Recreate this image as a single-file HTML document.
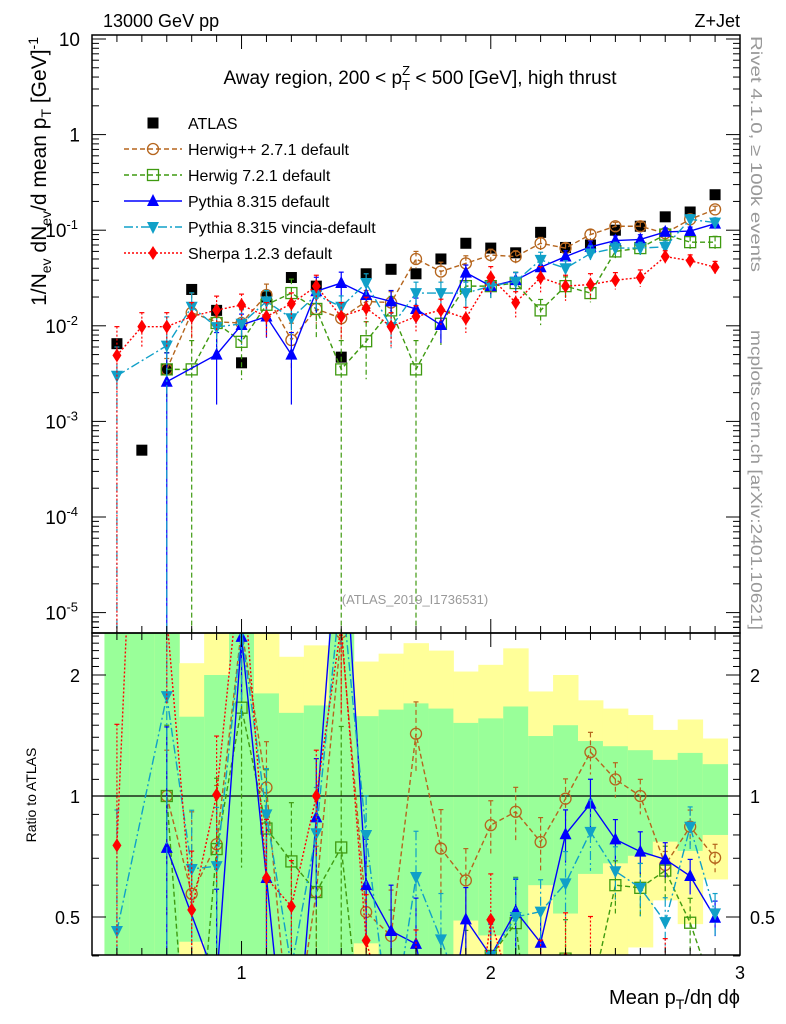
<!DOCTYPE html>
<html><head><meta charset="utf-8"><style>
html,body{margin:0;background:#fff;overflow:hidden;width:786px;height:1024px;}
svg{display:block;font-family:"Liberation Sans",sans-serif;}
</style></head><body>
<svg id="c" width="786" height="1024" viewBox="0 0 786 1024">
<defs>
<clipPath id="mainClip"><rect x="92" y="35" width="648" height="598"/></clipPath>
<clipPath id="ratioClip"><rect x="92" y="633" width="648" height="322"/></clipPath>
</defs>
<g id="bands" clip-path="url(#ratioClip)"></g>
<g id="marks"></g>
<g id="axes"></g>
<text x="103" y="27" font-size="18">13000 GeV pp</text>
<text x="740" y="27" font-size="18" text-anchor="end">Z+Jet</text>
<text x="420" y="84" font-size="19" text-anchor="middle">Away region, 200 &lt; p<tspan font-size="13" dy="6">T</tspan><tspan font-size="13" dx="-8" dy="-15">Z</tspan><tspan dy="9"> &lt; 500 [GeV], high thrust</tspan></text>
<text x="415" y="604" font-size="13" fill="#999" text-anchor="middle">(ATLAS_2019_I1736531)</text>
<text transform="translate(751,36) rotate(90)" font-size="16" fill="#999" textLength="236" lengthAdjust="spacingAndGlyphs" x="0" y="0">Rivet 4.1.0, ≥ 100k events</text>
<text transform="translate(751,330) rotate(90)" font-size="16" fill="#999" textLength="300" lengthAdjust="spacingAndGlyphs">mcplots.cern.ch [arXiv:2401.10621]</text>
<text transform="translate(46,37) rotate(-90)" font-size="21" text-anchor="end">1/N<tspan font-size="14" dy="5">ev</tspan><tspan dy="-5"> dN</tspan><tspan font-size="14" dy="5">ev</tspan><tspan dy="-5">/d mean p</tspan><tspan font-size="14" dy="5">T</tspan><tspan dy="-5"> [GeV]</tspan><tspan font-size="14" dy="-8">-1</tspan></text>
<text transform="translate(36,795) rotate(-90)" font-size="14" text-anchor="middle">Ratio to ATLAS</text>
<text x="740" y="1004" font-size="20" text-anchor="end">Mean p<tspan font-size="14" dy="5">T</tspan><tspan dy="-5">/dη dϕ</tspan></text>
<g id="legend"></g>
</svg>
<script>
const bins=[0.5,0.6,0.7,0.8,0.9,1.0,1.1,1.2,1.3,1.4,1.5,1.6,1.7,1.8,1.9,2.0,2.1,2.2,2.3,2.4,2.5,2.6,2.7,2.8,2.9];
const atlas=[0.0065,0.0005,0.0035,0.024,0.0145,0.0041,0.020,0.032,0.026,0.0047,0.035,0.039,0.035,0.05,0.073,0.065,0.058,0.095,0.066,0.07,0.1,0.11,0.138,0.155,0.235];
const herwigpp=[null,null,0.0035,0.0137,0.011,0.0107,0.021,0.0071,0.015,0.012,0.018,0.0175,0.05,0.037,0.045,0.055,0.053,0.073,0.065,0.09,0.11,0.11,0.093,0.13,0.165];
const herwig7=[null,null,0.0035,0.0035,0.0107,0.0068,0.0166,0.022,0.015,0.0035,0.0069,0.0145,0.0035,0.0105,0.026,0.026,0.028,0.0145,0.026,0.022,0.06,0.065,0.09,0.075,0.075];
const pythia=[null,null,0.0026,null,0.005,0.0102,0.0125,0.005,0.023,0.028,0.021,0.018,0.015,0.0102,0.036,0.026,0.030,0.041,0.053,0.067,0.078,0.08,0.096,0.098,0.117];
const vincia=[0.003,null,0.0062,0.0158,0.0097,0.0105,0.018,0.012,0.021,0.0158,0.028,0.0097,0.022,0.022,0.022,0.026,0.029,0.049,0.04,0.057,0.065,0.065,0.067,0.13,0.12];
const sherpa=[0.0049,0.0098,0.0098,0.0125,0.0146,0.0165,0.0125,0.017,0.026,0.0125,0.0153,0.0098,0.0125,0.0146,0.012,0.032,0.0175,0.032,0.026,0.027,0.03,0.032,0.053,0.048,0.041];
const errHpp=[0,0,0.3,0.6,0.4,0.4,0.3,0.5,0.3,0.4,0.3,0.3,0.2,0.25,0.2,0.15,0.15,0.15,0.12,0.12,0.1,0.1,0.08,0.1,0.08];
const errH7=[0,0,0.5,1,0.5,0.6,0.4,0.4,0.5,1,0.6,0.4,1,0.4,0.3,0.25,0.3,0.3,0.25,0.2,0.15,0.15,0.15,0.15,0.15];
const errPy=[0,0,1,0,0.7,0.3,0.4,0.7,0.4,0.3,0.3,0.3,0.3,0.35,0.2,0.2,0.2,0.2,0.15,0.15,0.12,0.12,0.1,0.1,0.1];
const errVi=[1,0,1,0.4,0.4,0.4,0.3,0.4,0.3,0.3,0.25,0.4,0.3,0.3,0.3,0.25,0.25,0.2,0.2,0.2,0.15,0.15,0.15,0.12,0.12];
const errSh=[1,0.4,0.4,0.4,0.4,0.3,0.4,0.3,0.3,0.4,0.3,0.4,0.3,0.3,0.3,0.3,0.3,0.3,0.3,0.3,0.2,0.2,0.15,0.15,0.15];
const yellowHi=[2.6,2.6,2.6,2.14,2.6,2.6,2.6,2.22,2.37,2.6,2.16,2.26,2.40,2.30,2.04,2.12,2.33,1.82,2.0,1.73,1.65,1.59,1.46,1.55,1.39];
const greenHi=[2.6,2.6,2.6,1.575,2.0,2.6,1.80,1.61,1.68,2.6,1.58,1.64,1.70,1.65,1.52,1.56,1.67,1.41,1.50,1.37,1.33,1.30,1.23,1.28,1.20];
const greenLo=[0.3,0.3,0.3,0.434,0.3,0.3,0.3,0.3,0.3,0.3,0.43,0.3,0.3,0.3,0.49,0.45,0.3,0.60,0.51,0.64,0.68,0.71,0.77,0.73,0.80];
const yellowLo=[0.3,0.3,0.3,0.3,0.3,0.3,0.3,0.3,0.3,0.3,0.3,0.3,0.3,0.3,0.3,0.3,0.3,0.3,0.3,0.3,0.3,0.42,0.55,0.48,0.62];
const xTicks=[1,2,3];
const yTickExp=[1,0,-1,-2,-3,-4,-5];
const rTicks=[0.5,1,2];

const NS="http://www.w3.org/2000/svg";
const X0=92,X1=740,MT=35,MB=633,RB=955;
const sx=v=>X0+(v-0.4)/(3-0.4)*(X1-X0);
const syM=v=>39+(1-Math.log10(v))*95.6;
const syR=r=>796-Math.log2(r)*121;
function el(tag,attrs,parent){const e=document.createElementNS(NS,tag);for(const k in attrs)e.setAttribute(k,attrs[k]);parent.appendChild(e);return e;}
const bands=document.getElementById('bands'),marks=document.getElementById('marks'),axes=document.getElementById('axes'),legend=document.getElementById('legend');
const hw=(sx(1.1)-sx(1.0))/2;
bins.forEach((b,i)=>{
  const y=el('rect',{x:sx(b)-hw,y:syR(yellowHi[i]),width:2*hw+0.5,height:syR(yellowLo[i])-syR(yellowHi[i]),fill:'#ffff99'},bands);
  
  
  const g=el('rect',{x:sx(b)-hw,y:syR(greenHi[i]),width:2*hw+0.5,height:syR(greenLo[i])-syR(greenHi[i]),fill:'#99ff99'},bands);
  
  
});
el('line',{x1:X0,x2:X1,y1:syR(1),y2:syR(1),stroke:'#000','stroke-width':1.2},bands);
const series=[
 {name:'herwigpp',label:'Herwig++ 2.7.1 default',v:herwigpp,e:errHpp,c:'#b5651d',dash:'5,3',m:'circle'},
 {name:'herwig7',label:'Herwig 7.2.1 default',v:herwig7,e:errH7,c:'#3f9a10',dash:'5,3',m:'osquare'},
 {name:'pythia',label:'Pythia 8.315 default',v:pythia,e:errPy,c:'#0000ff',dash:'',m:'tri'},
 {name:'vincia',label:'Pythia 8.315 vincia-default',v:vincia,e:errVi,c:'#10a0c8',dash:'9,3,2,3',m:'dtri'},
 {name:'sherpa',label:'Sherpa 1.2.3 default',v:sherpa,e:errSh,c:'#ff0000',dash:'2,2',m:'diamond'}
];
function marker(m,x,y,c,p){
  if(m==='circle')return el('circle',{cx:x,cy:y,r:5.5,fill:'none',stroke:c,'stroke-width':1.3},p);
  if(m==='osquare')return el('rect',{x:x-5.5,y:y-5.5,width:11,height:11,fill:'none',stroke:c,'stroke-width':1.3},p);
  if(m==='square')return el('rect',{x:x-5.5,y:y-5.5,width:11,height:11,fill:c},p);
  if(m==='tri')return el('polygon',{points:`${x},${y-7} ${x-6},${y+5} ${x+6},${y+5}`,fill:c},p);
  if(m==='dtri')return el('polygon',{points:`${x},${y+7} ${x-6},${y-5} ${x+6},${y-5}`,fill:c},p);
  return el('polygon',{points:`${x},${y-7} ${x-4.5},${y} ${x},${y+7} ${x+4.5},${y}`,fill:c},p);
}
function drawSeries(s,panel){
  const g=el('g',{'clip-path':panel==='main'?'url(#mainClip)':'url(#ratioClip)'},marks);
  
  
  const pts=[];
  bins.forEach((b,i)=>{
    const v=s.v[i]; if(v==null)return;
    const val=panel==='main'?v:v/atlas[i];
    const f=panel==='main'?syM:syR;
    const x=sx(b),y=f(val);
    const lo=s.e[i]>=1?(panel==='main'?MB+5:RB+5):f(val*(1-s.e[i])), hi=f(val*(1+s.e[i]));
    const eb=el('line',{x1:x,x2:x,y1:hi,y2:lo,stroke:s.c,'stroke-width':1.2,'stroke-dasharray':s.dash},g);
    
    
    el('line',{x1:x-2.5,x2:x+2.5,y1:hi,y2:hi,stroke:s.c,'stroke-width':1.2},g);
    pts.push([x,y]);
  });
  const pl=el('polyline',{points:pts.map(p=>p.join(',')).join(' '),fill:'none',stroke:s.c,'stroke-width':1.4,'stroke-dasharray':s.dash},g);
  
  
  pts.forEach(p=>{const mk=marker(s.m,p[0],p[1],s.c,g);
    
    });
}
const ga=el('g',{'clip-path':'url(#mainClip)'},marks);


series.forEach(s=>{drawSeries(s,'main');drawSeries(s,'ratio');});
bins.forEach((b,i)=>{const mk=marker('square',sx(b),syM(atlas[i]),'#000',ga);
  
  });
el('rect',{x:X0,y:MT,width:X1-X0,height:MB-MT,fill:'none',stroke:'#000','stroke-width':1.5},axes);
el('rect',{x:X0,y:MB,width:X1-X0,height:RB-MB,fill:'none',stroke:'#000','stroke-width':1.5},axes);
for(let k=5;k<=30;k++){const v=k/10;const x=sx(v);const major=(k%10===0);const L=major?14:7;
  [[MT,MT+L],[MB,MB-L],[MB,MB+L],[RB,RB-L]].forEach(([a,b])=>el('line',{x1:x,x2:x,y1:a,y2:b,stroke:'#000','stroke-width':1},axes));}
xTicks.forEach(v=>{const t=el('text',{x:sx(v),y:RB+24,'font-size':18,'text-anchor':'middle'},axes);t.textContent=v;
  
  });
yTickExp.forEach(e=>{const y=syM(Math.pow(10,e));
  el('line',{x1:X0,x2:X0+14,y1:y,y2:y,stroke:'#000'},axes);el('line',{x1:X1,x2:X1-14,y1:y,y2:y,stroke:'#000'},axes);
  const t=el('text',{x:80,y:y+7,'font-size':19,'text-anchor':'end'},axes);
  
  
  if(e===1)t.textContent='10';else if(e===0)t.textContent='1';
  else{t.innerHTML='10<tspan font-size="13" dy="-8">'+e+'</tspan>';t.setAttribute('x',78);}
  for(let m=2;m<=9;m++){const yy=syM(m*Math.pow(10,e-1));if(yy>MB||yy<MT)continue;
    el('line',{x1:X0,x2:X0+7,y1:yy,y2:yy,stroke:'#000'},axes);el('line',{x1:X1,x2:X1-7,y1:yy,y2:yy,stroke:'#000'},axes);}
});
for(let m=2;m<=9;m++){const yy=syM(m*1e-6);if(yy<=MB){el('line',{x1:X0,x2:X0+7,y1:yy,y2:yy,stroke:'#000'},axes);el('line',{x1:X1,x2:X1-7,y1:yy,y2:yy,stroke:'#000'},axes);}}
for(let k=4;k<=25;k++){const r=k/10;const y=syR(r);const major=rTicks.includes(r);const L=major?14:7;
  el('line',{x1:X0,x2:X0+L,y1:y,y2:y,stroke:'#000'},axes);el('line',{x1:X1,x2:X1-L,y1:y,y2:y,stroke:'#000'},axes);}
rTicks.forEach(r=>{const y=syR(r)+7;
  const t1=el('text',{x:80,y:y,'font-size':18,'text-anchor':'end'},axes);t1.textContent=r;
  
  
  const t2=el('text',{x:750,y:y,'font-size':18},axes);t2.textContent=r;
  
  });
const ly0=123,ldy=26;
const la=el('g',{},legend);


marker('square',153,ly0,'#000',la);
const lt=el('text',{x:188,y:ly0+6,'font-size':16},la);lt.textContent='ATLAS';
series.forEach((s,i)=>{const y=ly0+ldy*(i+1);
  const g=el('g',{},legend);
  
  
  el('line',{x1:124,x2:182,y1:y,y2:y,stroke:s.c,'stroke-width':1.4,'stroke-dasharray':s.dash},g);
  marker(s.m,153,y,s.c,g);
  const t=el('text',{x:188,y:y+6,'font-size':16},g);t.textContent=s.label;});
</script>
</body></html>
